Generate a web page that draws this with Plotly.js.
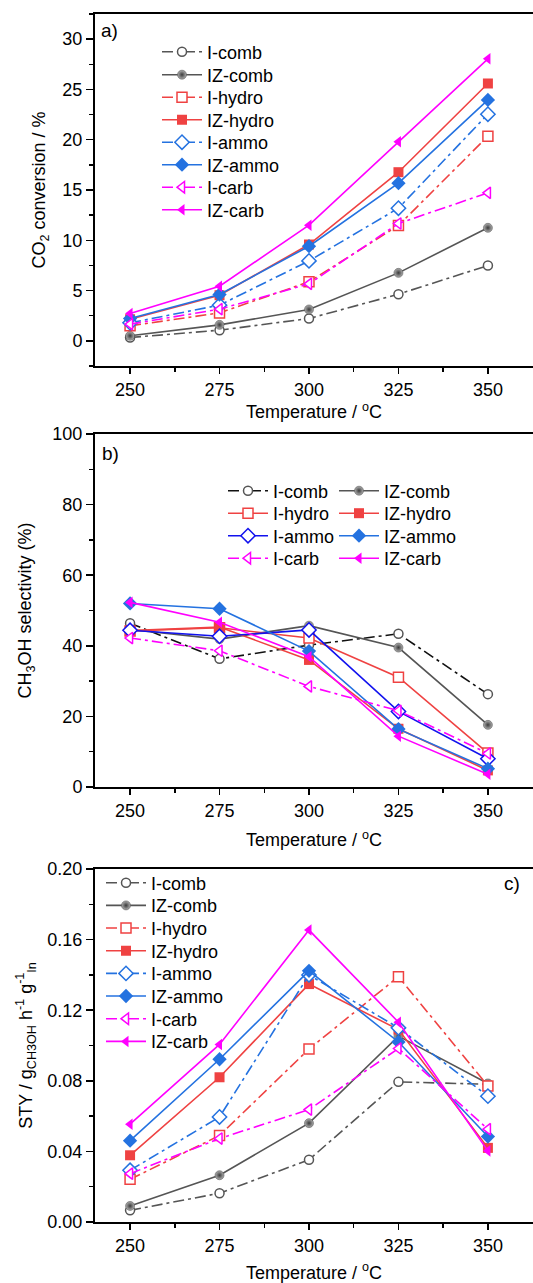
<!DOCTYPE html>
<html>
<head>
<meta charset="utf-8">
<script src="https://cdn.plot.ly/plotly-3.0.1.min.js"></script>
<style>
html,body{margin:0;padding:0;overflow:hidden;background:#fff;}
#chart{width:533px;height:1283px;}
</style>
</head>
<body>
<div id="chart"></div>
<script>
// ---------- data ----------
const temps = [250, 275, 300, 325, 350];
const seriesNames = ["I-comb", "IZ-comb", "I-hydro", "IZ-hydro", "I-ammo", "IZ-ammo", "I-carb", "IZ-carb"];

// a) CO2 conversion / %
const convIcomb  = [0.33, 1.06, 2.22, 4.64, 7.49];
const convIZcomb = [0.50, 1.59, 3.12, 6.76, 11.24];
const convIhydro = [1.49, 2.78, 5.87, 11.47, 20.35];
const convIZhydro= [2.15, 4.54, 9.58, 16.77, 25.59];
const convIammo  = [1.79, 3.55, 7.95, 13.19, 22.54];
const convIZammo = [2.22, 4.61, 9.41, 15.68, 23.96];
const convIcarb  = [1.66, 3.15, 5.67, 11.67, 14.72];
const convIZcarb = [2.72, 5.44, 11.50, 19.79, 28.04];

// b) CH3OH selectivity (%)
const selIcomb  = [46.4, 36.3, 40.2, 43.4, 26.3];
const selIZcomb = [44.6, 41.9, 45.7, 39.5, 17.6];
const selIhydro = [44.2, 45.1, 42.2, 31.1, 9.6];
const selIZhydro= [44.3, 45.3, 36.0, 16.5, 4.7];
const selIammo  = [44.4, 42.7, 44.5, 21.4, 8.0];
const selIZammo = [52.0, 50.5, 38.5, 16.4, 5.2];
const selIcarb  = [42.2, 38.6, 28.5, 21.6, 9.5];
const selIZcarb = [52.3, 46.7, 36.9, 14.4, 3.6];

// c) STY
const styIcomb  = [0.0066, 0.0163, 0.0353, 0.0794, 0.0780];
const styIZcomb = [0.0091, 0.0265, 0.0560, 0.1053, 0.0785];
const styIhydro = [0.0242, 0.0490, 0.0980, 0.1390, 0.0771];
const styIZhydro= [0.0378, 0.0820, 0.1348, 0.1090, 0.0420];
const styIammo  = [0.0293, 0.0595, 0.1400, 0.1100, 0.0713];
const styIZammo = [0.0461, 0.0922, 0.1423, 0.1020, 0.0484];
const styIcarb  = [0.0274, 0.0473, 0.0637, 0.0983, 0.0526];
const styIZcarb = [0.0554, 0.1006, 0.1654, 0.1132, 0.0403];

// ---------- styles ----------
const GRAY = "#555555", RED = "#EF4242", BLUE = "#2472E0", MAG = "#FF00FF", DBLUE = "#1212EE", BLACK = "#111111";
const DD = "11px,4px,3px,4px";

function styleFor(panel, idx){
  const base = [
    {color: GRAY, symbol: "circle", filled: false},
    {color: GRAY, symbol: "circle", filled: true, sphere: true},
    {color: RED, symbol: "square", filled: false},
    {color: RED, symbol: "square", filled: true},
    {color: BLUE, symbol: "diamond", filled: false},
    {color: BLUE, symbol: "diamond", filled: true},
    {color: MAG, symbol: "triangle-left", filled: false},
    {color: MAG, symbol: "triangle-left", filled: true}
  ][idx];
  const s = Object.assign({}, base);
  s.dash = s.filled ? "solid" : DD;
  s.lineColor = s.color;
  if (panel === "b") {
    if (idx === 0) s.lineColor = BLACK;
    if (idx === 2 || idx === 4) s.dash = "solid";
    if (idx === 4) { s.lineColor = DBLUE; s.color = DBLUE; }
  }
  return s;
}

function legName(n){ return n === 1 ? "legend" : "legend" + n; }

function makeTrace(panel, idx, yvals, xa, ya, legendNo){
  const s = styleFor(panel, idx);
  const marker = {symbol: s.symbol, size: s.symbol === "circle" ? 9 : (s.symbol === "diamond" ? 11 : 10)};
  if (s.filled) {
    if (s.sphere) {
      marker.color = "#b0b0b0";
      marker.gradient = {type: "radial", color: "#3a3a3a"};
      marker.line = {color: "#444444", width: 0.5};
    } else {
      marker.color = s.color;
      marker.line = {color: s.color, width: 0};
    }
  } else {
    marker.color = "#ffffff";
    marker.line = {color: s.color, width: 1.5};
  }
  return {
    type: "scatter", mode: "lines+markers",
    x: temps, y: yvals, name: seriesNames[idx],
    xaxis: xa, yaxis: ya, legend: legName(legendNo),
    line: {color: s.lineColor, width: 1.6, dash: s.dash},
    marker: marker
  };
}

const convData = [convIcomb, convIZcomb, convIhydro, convIZhydro, convIammo, convIZammo, convIcarb, convIZcarb];
const selData  = [selIcomb, selIZcomb, selIhydro, selIZhydro, selIammo, selIZammo, selIcarb, selIZcarb];
const styData  = [styIcomb, styIZcomb, styIhydro, styIZhydro, styIammo, styIZammo, styIcarb, styIZcarb];

const traces = [];
convData.forEach((d,i)=>traces.push(makeTrace("a", i, d, "x", "y", 1 + i)));
selData.forEach((d,i)=>traces.push(makeTrace("b", i, d, "x2", "y2", 9 + i)));
styData.forEach((d,i)=>traces.push(makeTrace("c", i, d, "x3", "y3", 17 + i)));

// ---------- layout ----------
const H = 1283, L = 95, W = 533, PW = W - L;
const py = p => (H - p) / H;
const px = p => (p - L) / PW;
const FONT = "Liberation Sans, Arial, sans-serif";

function xAxis(anchor, standoff){
  return {
    anchor: anchor, range: [240.2, 362.6], tickvals: temps, ticktext: temps.map(String),
    showline: true, linewidth: 2, linecolor: "#000", mirror: true,
    ticks: "outside", ticklen: 6, tickwidth: 1.5, tickcolor: "#000",
    minor: {tickvals: [262.5, 287.5, 312.5, 337.5], ticks: "outside", ticklen: 4, tickwidth: 1.5, tickcolor: "#000"},
    showgrid: false, zeroline: false,
    tickfont: {size: 18, color: "#000", family: FONT},
    title: {text: "Temperature / <sup>o</sup>C", font: {size: 18, color: "#000", family: FONT}, standoff: standoff},
    automargin: false
  };
}
function yAxis(anchor, domain, range, dtick, mdtick, fmt, title, standoff){
  return {
    anchor: anchor, domain: domain, range: range, dtick: dtick, tick0: 0,
    tickformat: fmt,
    showline: true, linewidth: 2, linecolor: "#000", mirror: false,
    ticks: "outside", ticklen: 7, tickwidth: 1.5, tickcolor: "#000",
    minor: {dtick: mdtick, tick0: 0, ticks: "outside", ticklen: 4, tickwidth: 1.5, tickcolor: "#000"},
    showgrid: false, zeroline: false,
    tickfont: {size: 18, color: "#000", family: FONT},
    title: {text: title, font: {size: 18, color: "#000", family: FONT}, standoff: standoff},
    automargin: false
  };
}

const layout = {
  width: W, height: H,
  margin: {l: L, r: 0, t: 0, b: 0},
  paper_bgcolor: "#fff", plot_bgcolor: "#fff",
  font: {family: FONT, color: "#000"},
  showlegend: true,
  xaxis: xAxis("y", 6),
  yaxis: yAxis("x", [py(366), py(14)], [-2.5, 32.5], 5, 2.5, "d", "CO<sub>2</sub> conversion / %", 12),
  xaxis2: xAxis("y2", 14),
  yaxis2: yAxis("x2", [py(787), py(434)], [0, 100], 20, 10, "d", "CH<sub>3</sub>OH selectivity (%)", 16),
  xaxis3: xAxis("y3", 14),
  yaxis3: yAxis("x3", [py(1222), py(869)], [0, 0.2], 0.04, 0.02, ".2f", "STY / g<sub>CH3OH</sub> h<sup>-1</sup> g<sup>-1</sup><sub>In</sub>", 10),
  annotations: [
    {text: "a)", xref: "paper", yref: "paper", x: px(99), y: py(30), xanchor: "left", yanchor: "middle", showarrow: false, font: {size: 19, color: "#000", family: FONT}},
    {text: "b)", xref: "paper", yref: "paper", x: px(100), y: py(453), xanchor: "left", yanchor: "middle", showarrow: false, font: {size: 19, color: "#000", family: FONT}},
    {text: "c)", xref: "paper", yref: "paper", x: px(522), y: py(883), xanchor: "right", yanchor: "middle", showarrow: false, font: {size: 19, color: "#000", family: FONT}}
  ]
};

// one legend per entry so rows can be spaced like the reference
const legBase = {
  font: {size: 18, color: "#000", family: FONT},
  bgcolor: "rgba(0,0,0,0)", borderwidth: 0,
  xanchor: "left", yanchor: "middle", traceorder: "normal",
  itemwidth: 40, tracegroupgap: 0
};
function setLeg(n, xPix, yPix){
  layout[legName(n)] = Object.assign({}, legBase, {x: px(xPix), y: py(yPix)});
}
const rowA = [52, 75, 97.5, 120, 142.5, 165, 187.5, 210];
const rowB = [491, 513.5, 536, 558.5];
const rowC = [883, 905.7, 928.3, 951, 973.7, 996.3, 1019, 1041.7];
for (let i = 0; i < 8; i++) setLeg(1 + i, 157, rowA[i]);
for (let i = 0; i < 8; i++) setLeg(9 + i, (i % 2 === 0) ? 223 : 334, rowB[Math.floor(i / 2)]);
for (let i = 0; i < 8; i++) setLeg(17 + i, 101, rowC[i]);

Plotly.newPlot("chart", traces, layout, {staticPlot: true, displayModeBar: false});
</script>
</body>
</html>
